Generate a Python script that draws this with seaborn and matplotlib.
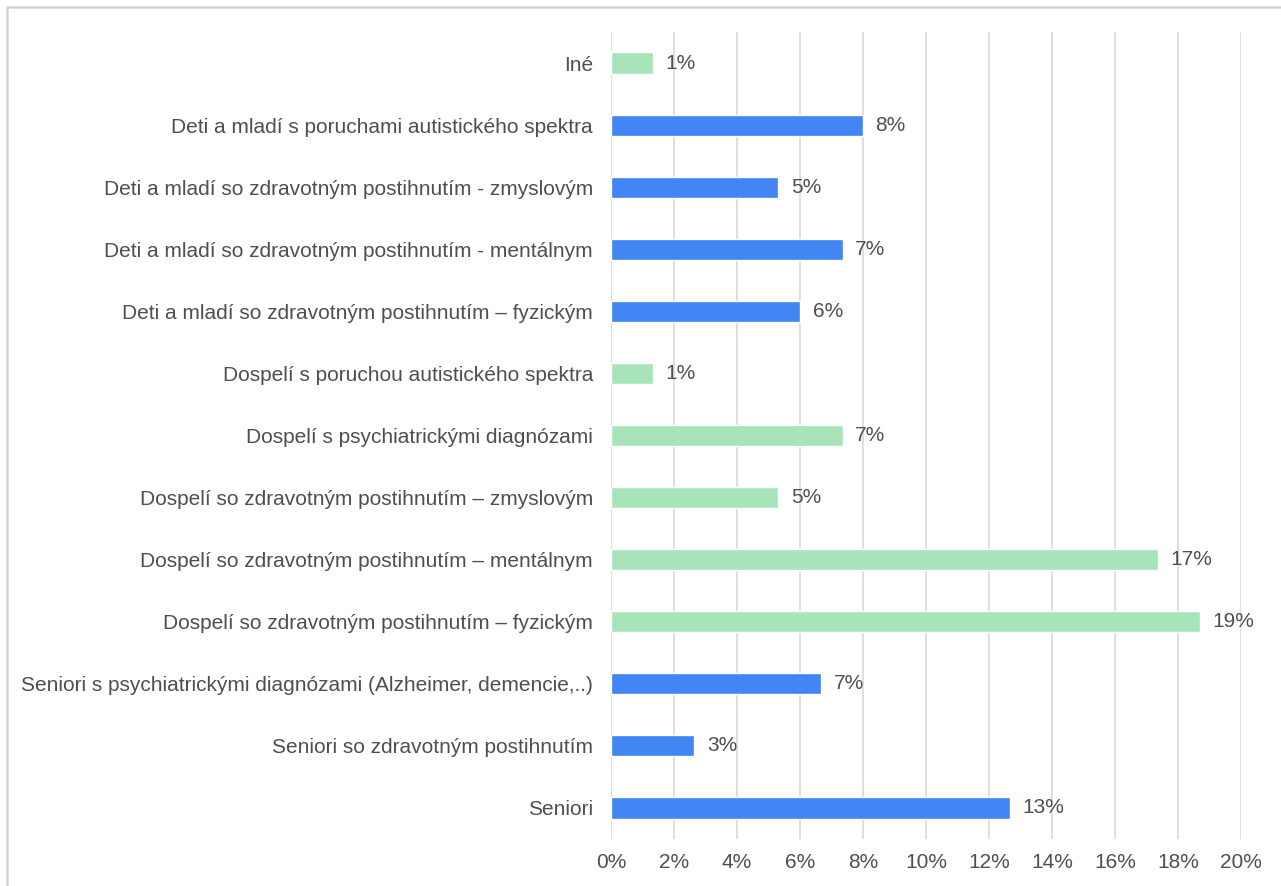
import matplotlib
matplotlib.use("Agg")
import matplotlib.pyplot as plt
from matplotlib.lines import Line2D
import seaborn as sns
import pandas as pd

categories = [
    "Iné",
    "Deti a mladí s poruchami autistického spektra",
    "Deti a mladí so zdravotným postihnutím - zmyslovým",
    "Deti a mladí so zdravotným postihnutím - mentálnym",
    "Deti a mladí so zdravotným postihnutím – fyzickým",
    "Dospelí s poruchou autistického spektra",
    "Dospelí s psychiatrickými diagnózami",
    "Dospelí so zdravotným postihnutím – zmyslovým",
    "Dospelí so zdravotným postihnutím – mentálnym",
    "Dospelí so zdravotným postihnutím – fyzickým",
    "Seniori s psychiatrickými diagnózami (Alzheimer, demencie,..)",
    "Seniori so zdravotným postihnutím",
    "Seniori",
]
values = [1.32, 7.99, 5.31, 7.35, 6.01, 1.32, 7.35, 5.31, 17.36, 18.69, 6.67, 2.65, 12.67]
groups = ["other", "children", "children", "children", "children",
          "adults", "adults", "adults", "adults", "adults",
          "seniors", "seniors", "seniors"]
xticks = [0, 2, 4, 6, 8, 10, 12, 14, 16, 18, 20]

group_colors = {"other": "#a8e4b9", "children": "#4285f4", "adults": "#a8e4b9", "seniors": "#4285f4"}

df = pd.DataFrame({"cat": categories, "val": values, "grp": groups})

sns.set_theme(style="white")
plt.rcParams["font.family"] = ["Liberation Sans", "DejaVu Sans"]

FS = 15
TXT = "#4f4f4f"

W, H = 1281, 886
fig = plt.figure(figsize=(W / 100, H / 100), dpi=100)
ax = fig.add_axes([611 / W, 1 - 839 / H, (1241 - 611) / W, (839 - 32) / H])

sns.barplot(data=df, x="val", y="cat", hue="grp", palette=group_colors,
            dodge=False, width=0.34, legend=False, ax=ax, orient="h",
            saturation=1)

ax.set_xlim(0, 20)
ax.set_ylim(12.5, -0.5)
ax.set_xticks(xticks)
ax.set_xticklabels([f"{t}%" for t in xticks])
ax.set_xlabel("")
ax.set_ylabel("")
ax.grid(axis="x", color="#dcdcdc", linewidth=1.3)
ax.grid(axis="y", visible=False)
ax.set_axisbelow(True)
for s in ax.spines.values():
    s.set_visible(False)
ax.tick_params(axis="x", length=0, pad=10, labelsize=FS, labelcolor=TXT)
ax.tick_params(axis="y", length=0, pad=13, labelsize=FS, labelcolor=TXT)

for cont in ax.containers:
    ax.bar_label(cont, fmt="%.0f%%", padding=9, fontsize=FS, color=TXT)

fig.add_artist(Line2D([7 / W, 7 / W], [0, 1 - 7 / H], color="#d4d4d4", lw=1.8))
fig.add_artist(Line2D([7 / W, 1], [1 - 7 / H, 1 - 7 / H], color="#d4d4d4", lw=1.8))

fig.savefig("out.png", dpi=100, facecolor="white")
